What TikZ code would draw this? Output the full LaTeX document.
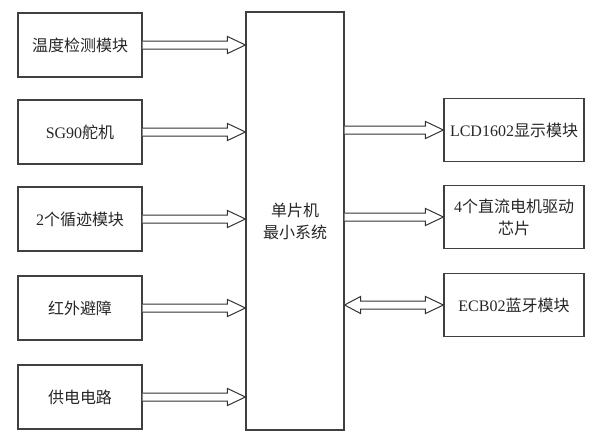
\documentclass[tikz,border=0pt]{standalone}
\usepackage{fontspec}
\setmainfont{Noto Sans CJK SC}
\newfontfamily\lat{Liberation Serif}
\usetikzlibrary{calc}
\tikzset{
  box/.style={draw=black!75, line width=1.1pt, inner sep=0pt, align=center,
    font=\fontsize{16}{22}\selectfont, text=black!85},
  lbox/.style={box, minimum width=124pt, minimum height=64pt},
  rbox/.style={box, minimum width=140pt, minimum height=63pt},
  barrow/.style={draw=black!80, line width=1pt, fill=white, line join=miter}
}
\newcommand{\rarrow}[2]{%
  \draw[barrow] let \p1=(#1), \p2=(#2) in
    (\x1,\y1+4pt) -- (\x2-18pt,\y1+4pt) -- (\x2-18pt,\y1+8.5pt) -- (\x2,\y1)
    -- (\x2-18pt,\y1-8.5pt) -- (\x2-18pt,\y1-4pt) -- (\x1,\y1-4pt);}
\newcommand{\darrow}[2]{%
  \draw[barrow] let \p1=(#1), \p2=(#2) in
    (\x1,\y1) -- (\x1+16pt,\y1+8.5pt) -- (\x1+16pt,\y1+4pt) -- (\x2-18pt,\y1+4pt)
    -- (\x2-18pt,\y1+8.5pt) -- (\x2,\y1) -- (\x2-18pt,\y1-8.5pt) -- (\x2-18pt,\y1-4pt)
    -- (\x1+16pt,\y1-4pt) -- (\x1+16pt,\y1-8.5pt) -- cycle;}
\begin{document}
\begin{tikzpicture}[x=1pt,y=-1pt]
\useasboundingbox (0,0) rectangle (592,440);
% left modules
\node[lbox] (t1) at (80,45) {温度检测模块};
\node[lbox] (t2) at (80,132) {{\lat SG90}舵机};
\node[lbox] (t3) at (80,219) {{\lat 2}个循迹模块};
\node[lbox] (t4) at (80,308) {红外避障};
\node[lbox] (t5) at (80,397) {供电电路};
% MCU
\node[box, minimum width=98pt, minimum height=418pt] (mcu) at (295,221) {单片机\\最小系统};
% right modules
\node[rbox] (r1) at (514,130) {{\lat LCD1602}显示模块};
\node[rbox] (r2) at (514,217) {{\lat 4}个直流电机驱动\\芯片};
\node[rbox] (r3) at (514,305) {{\lat ECB02}蓝牙模块};
% arrows
\rarrow{t1.east}{mcu.west |- t1.east}
\rarrow{t2.east}{mcu.west |- t2.east}
\rarrow{t3.east}{mcu.west |- t3.east}
\rarrow{t4.east}{mcu.west |- t4.east}
\rarrow{t5.east}{mcu.west |- t5.east}
\rarrow{mcu.east |- r1.west}{r1.west}
\rarrow{mcu.east |- r2.west}{r2.west}
\darrow{mcu.east |- r3.west}{r3.west}
\end{tikzpicture}
\end{document}
